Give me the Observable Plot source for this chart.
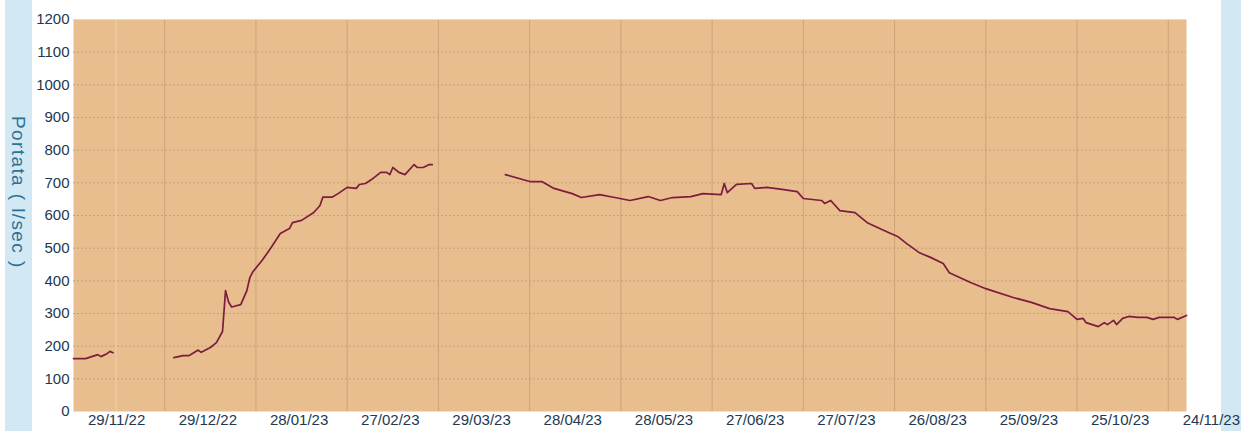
<!DOCTYPE html>
<html>
<head>
<meta charset="utf-8">
<script src="https://cdn.jsdelivr.net/npm/d3@7"></script>
<script src="https://cdn.jsdelivr.net/npm/@observablehq/plot@0.6"></script>
<style>
  html, body { margin: 0; padding: 0; background: #ffffff; }
  #wrap { position: relative; width: 1241px; height: 431px; overflow: hidden; }
  .strip { position: absolute; top: 0; height: 431px; background: #d2e9f3; z-index: 0; }
  #ylabel {
    position: absolute; left: 5px; width: 27px; top: 116px; z-index: 1;
    writing-mode: vertical-rl; text-align: left;
    font-family: "Liberation Sans", Arial, sans-serif; font-size: 19px;
    color: #2d7197; line-height: 27px; letter-spacing: 1.4px;
  }
  #wrap svg { position: absolute; left: 0; top: 0; max-width: none; z-index: 2; }
</style>
</head>
<body>
<div id="wrap"></div>
<script>
// ---- data ----
const dates = [
  "2022-11-14","2022-11-18","2022-11-20","2022-11-22","2022-11-23","2022-11-25","2022-11-26","2022-11-27",
  "2022-12-05",
  "2022-12-17","2022-12-20","2022-12-22","2022-12-23","2022-12-25","2022-12-26","2022-12-29","2022-12-31",
  "2023-01-02","2023-01-03","2023-01-04","2023-01-05","2023-01-08","2023-01-10","2023-01-11","2023-01-12",
  "2023-01-15","2023-01-18","2023-01-21","2023-01-24","2023-01-25","2023-01-28","2023-02-01","2023-02-03",
  "2023-02-04","2023-02-07","2023-02-09","2023-02-12","2023-02-15","2023-02-16","2023-02-18","2023-02-20",
  "2023-02-23","2023-02-25","2023-02-26","2023-02-27","2023-03-01","2023-03-03","2023-03-06","2023-03-07",
  "2023-03-09","2023-03-11","2023-03-12",
  "2023-03-25",
  "2023-04-05","2023-04-13","2023-04-17","2023-04-21","2023-04-27","2023-04-30","2023-05-06","2023-05-11",
  "2023-05-16","2023-05-22","2023-05-26","2023-05-30","2023-06-05","2023-06-09","2023-06-15","2023-06-16",
  "2023-06-17","2023-06-20","2023-06-25","2023-06-26","2023-06-30","2023-07-05","2023-07-10","2023-07-12",
  "2023-07-15","2023-07-18","2023-07-19","2023-07-21","2023-07-24","2023-07-29","2023-08-02","2023-08-09",
  "2023-08-12","2023-08-15","2023-08-19","2023-08-23","2023-08-27","2023-08-29","2023-09-05","2023-09-10",
  "2023-09-12","2023-09-19","2023-09-25","2023-10-01","2023-10-07","2023-10-10","2023-10-12","2023-10-13",
  "2023-10-17","2023-10-19","2023-10-20","2023-10-22","2023-10-23","2023-10-25","2023-10-27","2023-10-30",
  "2023-11-02","2023-11-04","2023-11-06","2023-11-11","2023-11-12","2023-11-15"
];
const portata = [
  162,162,168,174,168,177,184,180,
  null,
  165,171,171,177,188,181,196,211,
  245,370,335,320,327,370,410,428,
  462,502,545,560,578,585,609,630,
  656,656,667,686,683,695,698,710,
  732,732,725,747,732,725,756,747,
  747,756,756,
  null,
  725,704,704,683,667,655,664,655,
  646,658,646,655,658,667,664,698,
  670,695,698,683,686,680,673,652,
  649,646,637,646,615,609,578,548,
  536,514,487,471,453,425,395,376,
  370,349,334,315,306,282,285,272,
  260,272,266,279,266,285,291,288,
  288,282,288,288,282,294
];
const xTickLabels = ["29/11/22","29/12/22","28/01/23","27/02/23","29/03/23","28/04/23","28/05/23",
                     "27/06/23","27/07/23","26/08/23","25/09/23","25/10/23","24/11/23"];
const gridDates = ["2022-12-14","2023-01-13","2023-02-12","2023-03-14","2023-04-13","2023-05-13",
                   "2023-06-12","2023-07-12","2023-08-11","2023-09-10","2023-10-10","2023-11-09"];
const lightGridDates = ["2022-11-28"];
const yTicks = [0,100,200,300,400,500,600,700,800,900,1000,1100,1200];
const xDomain = ["2022-11-14","2023-11-15"];
const yLabel = "Portata ( l/sec )";

// ---- build ----
const parseIso = d3.utcParse("%Y-%m-%d");
const parseLbl = d3.utcParse("%d/%m/%y");
const fmtLbl = d3.utcFormat("%d/%m/%y");
const rows = dates.map((d, i) => ({date: parseIso(d), value: portata[i]}));
const tickDates = xTickLabels.map(parseLbl);

const chart = Plot.plot({
  width: 1241,
  height: 431,
  marginLeft: 73,
  marginRight: 55,
  marginTop: 19,
  marginBottom: 20,
  style: {background: "transparent", fontFamily: "'Liberation Sans', Arial, sans-serif", fontSize: "15px", color: "#22384f"},
  x: {type: "utc", domain: xDomain.map(parseIso)},
  y: {domain: [0, 1200]},
  marks: [
    Plot.frame({fill: "#e8be8e", stroke: null}),
    Plot.ruleY(yTicks.slice(1, -1), {stroke: "#c99f77", strokeWidth: 1, strokeDasharray: "2,2"}),
    Plot.ruleX(gridDates.map(parseIso), {stroke: "#cfa277", strokeWidth: 1}),
    Plot.ruleX(lightGridDates.map(parseIso), {stroke: "#f1d0a9", strokeWidth: 1}),
    Plot.ruleY([1200], {stroke: "#f0d6bd", strokeWidth: 1}),
    Plot.line(rows, {x: "date", y: "value", stroke: "#7b1c40", strokeWidth: 1.7, curve: "linear"}),
    Plot.axisY({ticks: yTicks, tickSize: 0, tickPadding: 4, tickFormat: d => String(d), label: null, fill: "#22384f", fontSize: 15}),
    Plot.axisX({ticks: tickDates, tickSize: 0, tickPadding: 3, dx: -2.5, tickFormat: fmtLbl, label: null, fill: "#22384f", fontSize: 15})
  ]
});

const wrap = document.getElementById("wrap");
const left = document.createElement("div");
left.className = "strip"; left.style.left = "5px"; left.style.width = "27px";
wrap.appendChild(left);
const right = document.createElement("div");
right.className = "strip"; right.style.left = "1221px"; right.style.width = "20px";
wrap.appendChild(right);
const yl = document.createElement("div");
yl.id = "ylabel"; yl.textContent = yLabel;
wrap.appendChild(yl);
wrap.appendChild(chart);
</script>
</body>
</html>
